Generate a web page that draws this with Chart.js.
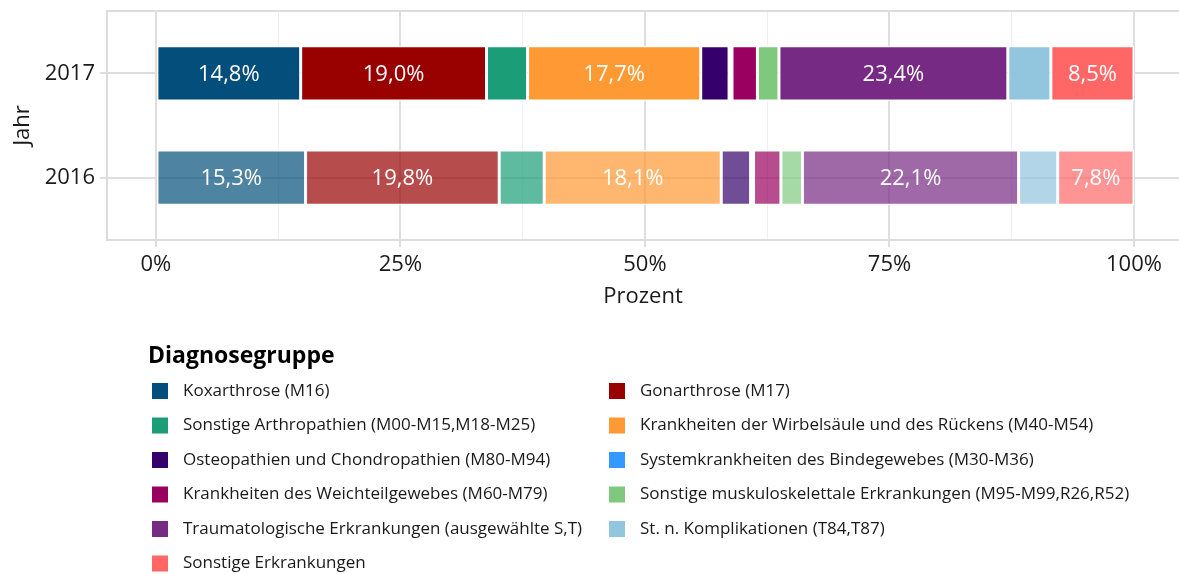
<!DOCTYPE html>
<html>
<head>
<meta charset="utf-8">
<script src="https://cdn.jsdelivr.net/npm/chart.js@4"></script>
<style>
  html, body { margin: 0; padding: 0; background: #fff; }
</style>
</head>
<body>
<canvas id="chart" width="1179" height="574"></canvas>
<script>
// data (shares in percent)
const years = [2017, 2016];
const groups = [
  'Koxarthrose (M16)',
  'Gonarthrose (M17)',
  'Sonstige Arthropathien (M00-M15,M18-M25)',
  'Krankheiten der Wirbelsäule und des Rückens (M40-M54)',
  'Osteopathien und Chondropathien (M80-M94)',
  'Systemkrankheiten des Bindegewebes (M30-M36)',
  'Krankheiten des Weichteilgewebes (M60-M79)',
  'Sonstige muskuloskelettale Erkrankungen (M95-M99,R26,R52)',
  'Traumatologische Erkrankungen (ausgewählte S,T)',
  'St. n. Komplikationen (T84,T87)',
  'Sonstige Erkrankungen'
];
const share2017 = [14.8, 19.0, 4.2, 17.7, 2.9, 0.3, 2.6, 2.2, 23.4, 4.4, 8.5];
const share2016 = [15.3, 19.8, 4.6, 18.1, 3.0, 0.3, 2.8, 2.2, 22.1, 4.0, 7.8];
const xTicks = [0, 12.5, 25, 37.5, 50, 62.5, 75, 87.5, 100];

const colors = ['#034e7b', '#990000', '#1b9e77', '#ff9933', '#35006b', '#3399ff',
                '#99005f', '#7fc97f', '#762a83', '#92c5de', '#ff6666'];

const FONT = "'Open Sans', 'Noto Sans', sans-serif";
const TXT = '#1a1a1a';

function withAlpha(hex, a) {
  const n = parseInt(hex.slice(1), 16);
  return 'rgba(' + (n >> 16) + ',' + ((n >> 8) & 255) + ',' + (n & 255) + ',' + a + ')';
}

const datasets = groups.map((g, i) => ({
  label: g,
  data: [share2017[i], share2016[i]],
  backgroundColor: [colors[i], withAlpha(colors[i], 0.7)],
  borderColor: '#ffffff',
  borderWidth: 1.5,
  borderSkipped: false,
  categoryPercentage: 1,
  barPercentage: 0.53
}));

// panel border (top, left, bottom) drawn over the grid
const panelBorder = {
  id: 'panelBorder',
  beforeDatasetsDraw(chart) {
    const { ctx, chartArea: a } = chart;
    ctx.save();
    ctx.strokeStyle = '#dcdcdc';
    ctx.lineWidth = 2;
    ctx.beginPath();
    ctx.moveTo(a.right + 2, a.top);
    ctx.lineTo(a.left, a.top);
    ctx.lineTo(a.left, a.bottom);
    ctx.lineTo(a.right + 2, a.bottom);
    ctx.stroke();
    ctx.restore();
  }
};

// white value labels inside the bigger segments
const barLabels = {
  id: 'barLabels',
  afterDatasetsDraw(chart) {
    const ctx = chart.ctx;
    ctx.save();
    ctx.fillStyle = '#ffffff';
    ctx.font = '22px ' + FONT;
    ctx.textAlign = 'center';
    ctx.textBaseline = 'middle';
    chart.data.datasets.forEach((ds, i) => {
      chart.getDatasetMeta(i).data.forEach((bar, j) => {
        const v = ds.data[j];
        if (v < 5) return;
        ctx.fillText(v.toFixed(1).replace('.', ',') + '%', (bar.x + bar.base) / 2, bar.y + 1);
      });
    });
    ctx.restore();
  }
};

// legend in two columns below the plot
const gridLegend = {
  id: 'gridLegend',
  afterDraw(chart) {
    const ctx = chart.ctx;
    ctx.save();
    ctx.fillStyle = '#000';
    ctx.font = 'bold 23px ' + FONT;
    ctx.textBaseline = 'middle';
    ctx.fillText('Diagnosegruppe', 148, 356);
    ctx.font = '17px ' + FONT;
    groups.forEach((g, i) => {
      const col = i % 2, row = Math.floor(i / 2);
      const x = col ? 609 : 152;
      const y = 391 + row * 34.5;
      ctx.fillStyle = colors[i];
      ctx.fillRect(x, y - 8, 16, 16);
      ctx.fillStyle = TXT;
      ctx.fillText(g, x + 31, y);
    });
    ctx.restore();
  }
};

new Chart(document.getElementById('chart').getContext('2d'), {
  type: 'bar',
  data: { labels: years, datasets: datasets },
  options: {
    indexAxis: 'y',
    responsive: false,
    animation: false,
    layout: { padding: { top: 11, right: 0, bottom: 264, left: 0 } },
    plugins: { legend: { display: false }, tooltip: { enabled: false } },
    scales: {
      x: {
        type: 'linear', min: -5, max: 104.6, stacked: true,
        afterBuildTicks: s => { s.ticks = xTicks.map(v => ({ value: v })); },
        afterFit: s => { s.height = 70; },
        ticks: {
          autoSkip: false, maxRotation: 0, padding: 5, color: TXT,
          font: { family: FONT, size: 22 },
          callback: v => (v % 25 === 0 ? v + '%' : '')
        },
        grid: {
          color: c => (c.tick && c.tick.value % 25 === 0 ? '#dedede' : '#efefef'),
          lineWidth: c => (c.tick && c.tick.value % 25 === 0 ? 2 : 1),
          tickColor: c => (c.tick && c.tick.value % 25 === 0 ? '#dedede' : 'rgba(0,0,0,0)'),
          tickLength: 7
        },
        border: { display: false },
        title: {
          display: true, text: 'Prozent', color: TXT,
          font: { family: FONT, size: 22 }, padding: { top: 2, bottom: 0 }
        }
      },
      y: {
        type: 'linear', min: 2015.4, max: 2017.6, stacked: true,
        offset: false,
        afterBuildTicks: s => { s.ticks = years.map(v => ({ value: v })); },
        afterFit: s => { s.width = 107; s.paddingTop = 0; s.paddingBottom = 0; },
        ticks: {
          padding: 5, color: TXT,
          font: { family: FONT, size: 22 },
          callback: v => String(v)
        },
        grid: { offset: false, color: '#dedede', lineWidth: 2, tickLength: 7 },
        border: { display: false },
        title: {
          display: true, text: 'Jahr', color: TXT,
          font: { family: FONT, size: 22 }, padding: { top: 10, bottom: 0 }
        }
      }
    }
  },
  plugins: [panelBorder, barLabels, gridLegend]
});
</script>
</body>
</html>
